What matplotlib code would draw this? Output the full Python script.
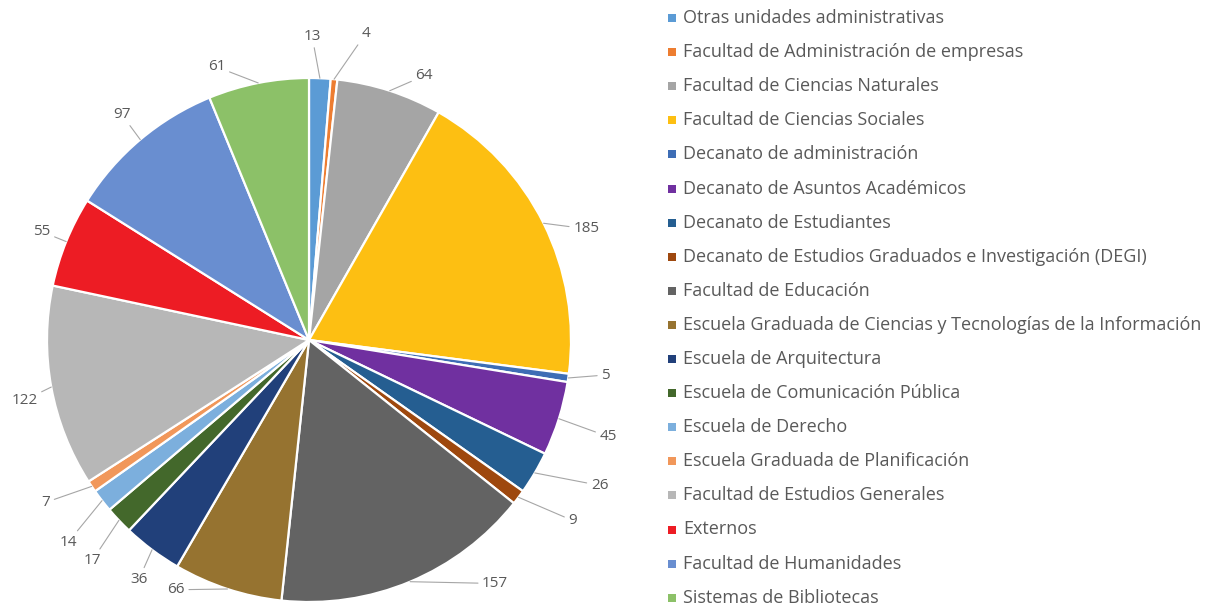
import numpy as np
import matplotlib.pyplot as plt
from matplotlib.patches import Rectangle

# Data
categories = [
    "Otras unidades administrativas",
    "Facultad de Administración de empresas",
    "Facultad de Ciencias Naturales",
    "Facultad de Ciencias Sociales",
    "Decanato de administración",
    "Decanato de Asuntos Académicos",
    "Decanato de Estudiantes",
    "Decanato de Estudios Graduados e Investigación (DEGI)",
    "Facultad de Educación",
    "Escuela Graduada de Ciencias y Tecnologías de la Información",
    "Escuela de Arquitectura",
    "Escuela de Comunicación Pública",
    "Escuela de Derecho",
    "Escuela Graduada de Planificación",
    "Facultad de Estudios Generales",
    "Externos",
    "Facultad de Humanidades",
    "Sistemas de Bibliotecas",
]
values = [13, 4, 64, 185, 5, 45, 26, 9, 157, 66, 36, 17, 14, 7, 122, 55, 97, 61]
colors = [
    "#5B9BD5", "#ED7D31", "#A5A5A5", "#FDBF12", "#3E6DB5", "#7030A0",
    "#255E91", "#9E480E", "#636363", "#967330", "#21407A", "#43682B",
    "#7CAFDD", "#F1975A", "#B7B7B7", "#ED1C24", "#698ED0", "#8CC168",
]

# label placement (Excel "best fit"): angular nudge in degrees and radius
label_shift = [-1.8, 5.0, 5.6, 4.6, -1.6, 0.4, -3.9, -2.5, -14.7,
               9.9, -1.4, -2.0, -2.2, 2.3, -1.6, 0.0, 0.4, -7.5]
label_radius = [1.16, 1.19, 1.10, 1.14, 1.14, 1.20, 1.24, 1.22, 1.17,
                1.08, 1.12, 1.18, 1.20, 1.18, 1.11, 1.10, 1.12, 1.10]

FONT = "Open Sans"
TXT = "#595959"
W, H = 1223, 609

fig = plt.figure(figsize=(W / 100, H / 100), dpi=100)
fig.patch.set_facecolor("white")

cx, cy, r = 309, 340, 262
ax = fig.add_axes([(cx - r) / W, (H - cy - r) / H, 2 * r / W, 2 * r / H])
wedges, _ = ax.pie(values, colors=colors, startangle=90, counterclock=False,
                   radius=1.0,
                   wedgeprops=dict(edgecolor="white", linewidth=1.6))
ax.set_xlim(-1, 1)
ax.set_ylim(-1, 1)
ax.set_aspect("equal")
ax.axis("off")

# data labels with leader lines
total = float(sum(values))
cum = np.cumsum([0] + values[:-1])
for i, v in enumerate(values):
    mid = (cum[i] + v / 2.0) / total * 360.0  # clockwise from top
    a = np.deg2rad(mid)
    ex, ey = np.sin(a), np.cos(a)
    b = np.deg2rad(mid + label_shift[i])
    lx, ly = label_radius[i] * np.sin(b), label_radius[i] * np.cos(b)
    ax.annotate(str(v), xy=(ex, ey), xytext=(lx, ly),
                ha="center", va="center", fontsize=11, color=TXT,
                family=FONT, annotation_clip=False,
                arrowprops=dict(arrowstyle="-", color="#A6A6A6", lw=0.8,
                                shrinkA=1, shrinkB=0))

# legend drawn as a column of squares and labels
x_box, y0, pitch = 668, 18, 34.1
for i, (name, c) in enumerate(zip(categories, colors)):
    yc = y0 + i * pitch
    fig.patches.append(Rectangle((x_box / W, 1 - (yc + 4) / H), 8 / W, 8 / H,
                                 transform=fig.transFigure, facecolor=c,
                                 edgecolor="none"))
    fig.text(683 / W, 1 - yc / H, name, ha="left", va="center",
             fontsize=13, color=TXT, family=FONT)

fig.savefig("out.png", dpi=100)
